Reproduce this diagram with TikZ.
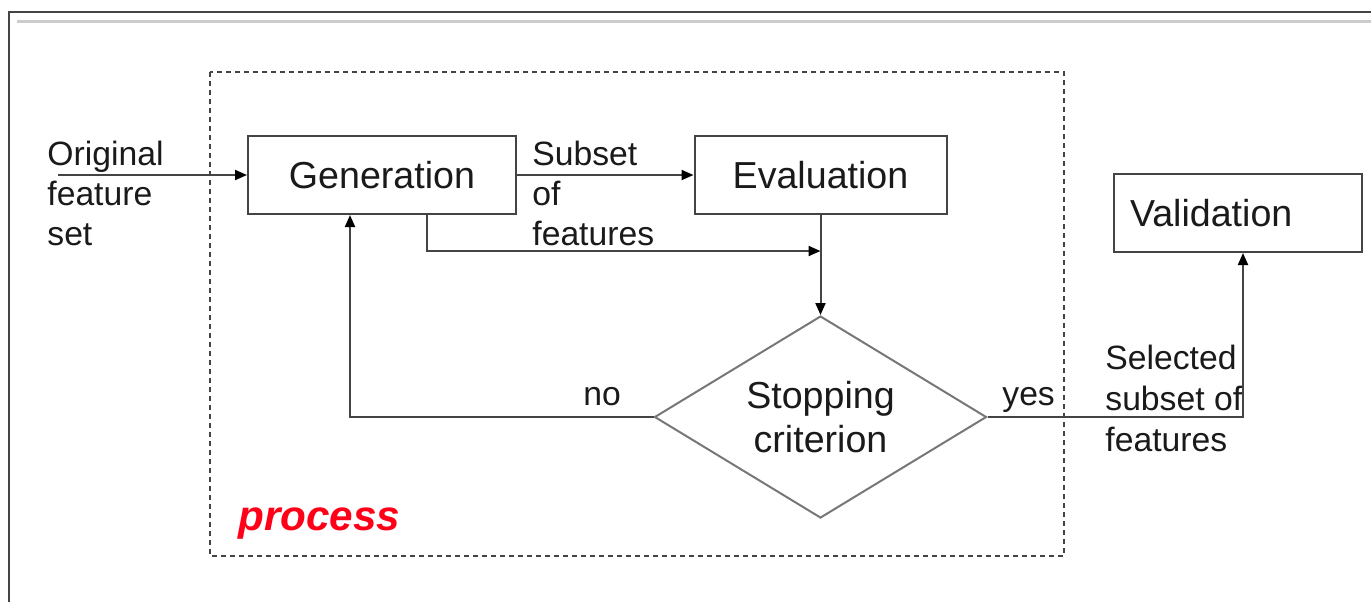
\documentclass[tikz,border=0pt]{standalone}
\usepackage{fontspec}
\setmainfont{Liberation Sans}
\usetikzlibrary{shapes.geometric,arrows.meta}
\definecolor{ink}{HTML}{1A1A1A}
\definecolor{edge}{HTML}{444444}
\definecolor{soft}{HTML}{777777}
\definecolor{hot}{HTML}{FF0018}
\tikzset{
  stagebox/.style={draw=edge, line width=1pt, fill=white, minimum height=39pt,
    inner sep=0pt, text=ink, font=\fontsize{18.8}{22}\selectfont},
  decision/.style={draw=soft, line width=1pt, diamond, shape aspect=1.64, inner sep=0pt,
    minimum width=166pt, minimum height=101pt, align=center, text=ink,
    font=\fontsize{18.8}{22}\selectfont},
  flowlabel/.style={inner sep=0pt, align=left, text=ink,
    font=\fontsize{16.85}{20}\selectfont},
  conn/.style={draw=edge, line width=1pt, -{Triangle[length=6pt,width=5pt,color=black]}},
}
\begin{document}
\begin{tikzpicture}[x=0.5pt, y=-0.5pt]
\useasboundingbox (0,0) rectangle (1371,602);
% page frame
\draw[draw=edge, line width=1pt] (9,602) -- (9,12) -- (1371,12);
\draw[draw=black!20, line width=1.5pt] (17,21) -- (1371,21);
% dashed process region
\draw[draw=edge, line width=1pt, dash pattern=on 2.5pt off 2pt] (210,72) rectangle (1064,556);
\node[anchor=base west, inner sep=0pt, text=hot,
  font=\fontsize{21.1}{24}\selectfont\bfseries\itshape] (proc) at (238,530) {process};
% stages
\node[stagebox, minimum width=134pt] (gen) at (382,175) {Generation};
\node[stagebox, minimum width=126pt] (eval) at (820.5,175) {Evaluation};
\node[stagebox, minimum width=124pt, text width=108pt, inner xsep=8pt, align=left] (val) at (1238,213) {Validation};
\node[decision] (stop) at (820.5,417) {Stopping\\criterion};
% labels (anchored at the baseline of their last line)
\node[flowlabel, anchor=base west] (orig) at (47,245) {Original\\feature\\set};
\node[flowlabel, anchor=base west] (sub) at (532,245) {Subset\\of\\features};
\node[flowlabel, anchor=base west] (no) at (583,405) {no};
\node[flowlabel, anchor=base west] (yes) at (1002,405) {yes};
\node[flowlabel, anchor=base west, font=\fontsize{16.85}{20.5}\selectfont] (sel) at (1105,451) {Selected\\subset of\\features};
% connectors
\coordinate (src) at (58,175);
\coordinate (tap) at (427,214);
\coordinate (nobend) at (350,417);
\coordinate (yesbend) at (1243,417);
\draw[conn] (src) -- (gen.west);
\draw[conn] (gen.east) -- (eval.west);
\draw[conn] (tap) |- (eval.south |- 0,251);
\draw[conn] (eval.south) -- (stop.north);
\draw[conn] (stop.west) -- (nobend) -- (nobend |- gen.south);
\draw[conn] (stop.east) -- (yesbend) -- (yesbend |- val.south);
\end{tikzpicture}
\end{document}
